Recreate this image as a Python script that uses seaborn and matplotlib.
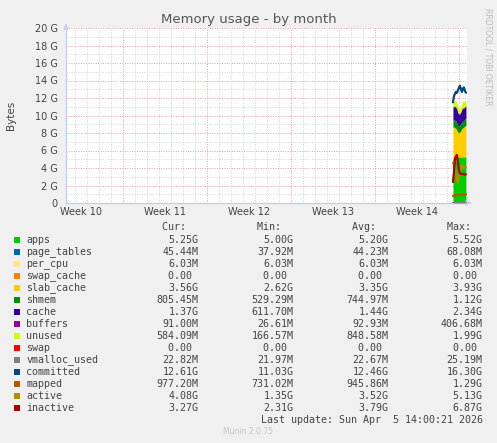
import matplotlib
matplotlib.use("Agg")
import numpy as np
import pandas as pd
import matplotlib.pyplot as plt
import seaborn as sns
from matplotlib.patches import Rectangle

# ========== DATA (values in GB) ==========
start_day = 32.25                      # first sample, days from left edge of plot
hours = [0, 2, 4, 6, 8, 10, 12, 14, 16, 18, 20, 22, 24, 26]

stack_names = ["apps", "page_tables", "per_cpu", "swap_cache", "slab_cache",
               "shmem", "cache", "buffers", "unused", "swap"]
apps = [5.00, 5.05, 5.10, 5.15, 5.20, 5.20, 5.25, 5.20, 5.20, 5.25, 5.25, 5.20, 5.25, 5.25]
page_tables = [0.040, 0.042, 0.043, 0.044, 0.045, 0.045, 0.046, 0.045, 0.044, 0.045, 0.045, 0.045, 0.045, 0.045]
per_cpu = [0.006, 0.006, 0.006, 0.006, 0.006, 0.006, 0.006, 0.006, 0.006, 0.006, 0.006, 0.006, 0.006, 0.006]
swap_cache = [0, 0, 0, 0, 0, 0, 0, 0, 0, 0, 0, 0, 0, 0]
slab_cache = [3.55, 3.60, 3.45, 3.30, 3.05, 2.85, 2.70, 2.85, 3.05, 3.20, 3.30, 3.45, 3.50, 3.56]
shmem = [0.85, 0.80, 0.85, 0.90, 0.80, 0.75, 0.80, 0.85, 0.80, 0.75, 0.70, 0.75, 0.80, 0.81]
cache = [1.45, 1.50, 1.55, 1.50, 1.60, 1.40, 1.30, 1.25, 1.30, 1.45, 1.50, 1.40, 1.35, 1.37]
buffers = [0.10, 0.09, 0.09, 0.10, 0.09, 0.09, 0.09, 0.09, 0.09, 0.09, 0.09, 0.09, 0.09, 0.09]
unused = [0.60, 0.55, 0.65, 0.70, 0.60, 0.75, 0.55, 0.45, 0.60, 0.70, 0.80, 0.70, 0.55, 0.58]
swap = [0, 0, 0, 0, 0, 0, 0, 0, 0, 0, 0, 0, 0, 0]

line_names = ["vmalloc_used", "committed", "mapped", "active", "inactive"]
vmalloc_used = [0.022, 0.022, 0.022, 0.023, 0.023, 0.023, 0.023, 0.023, 0.023, 0.023, 0.023, 0.023, 0.023, 0.023]
committed = [11.5, 12.2, 12.5, 12.7, 12.6, 12.9, 13.2, 13.4, 13.0, 12.7, 13.1, 13.2, 12.8, 12.6]
mapped = [0.80, 0.85, 0.88, 0.90, 0.92, 0.95, 0.93, 0.95, 0.97, 0.96, 0.98, 0.97, 0.97, 0.98]
active = [4.6, 4.4, 3.8, 3.3, 2.6, 2.3, 3.0, 3.6, 4.15, 4.3, 4.0, 4.1, 4.1, 4.08]
inactive = [2.4, 3.5, 5.1, 5.3, 5.5, 4.6, 3.8, 3.4, 3.3, 3.35, 3.3, 3.3, 3.25, 3.27]

colors = {
    "apps": "#00CC00", "page_tables": "#0066B3", "per_cpu": "#FFE680",
    "swap_cache": "#FF8000", "slab_cache": "#FFCC00", "shmem": "#008F00",
    "cache": "#330099", "buffers": "#990099", "unused": "#CCFF00",
    "swap": "#FF0000", "vmalloc_used": "#808080", "committed": "#00487D",
    "mapped": "#B35A00", "active": "#B38F00", "inactive": "#B30000",
}

week_labels = ["Week 10", "Week 11", "Week 12", "Week 13", "Week 14"]
week_starts = [4.78, 11.78, 18.78, 25.78, 32.78]
y_ticks = [0, 2, 4, 6, 8, 10, 12, 14, 16, 18, 20]
y_labels = ["0", "2 G", "4 G", "6 G", "8 G", "10 G", "12 G", "14 G", "16 G", "18 G", "20 G"]

legend_rows = [
    ("apps", "5.25G", "5.00G", "5.20G", "5.52G"),
    ("page_tables", "45.44M", "37.92M", "44.23M", "68.08M"),
    ("per_cpu", "6.03M", "6.03M", "6.03M", "6.03M"),
    ("swap_cache", "0.00 ", "0.00 ", "0.00 ", "0.00 "),
    ("slab_cache", "3.56G", "2.62G", "3.35G", "3.93G"),
    ("shmem", "805.45M", "529.29M", "744.97M", "1.12G"),
    ("cache", "1.37G", "611.70M", "1.44G", "2.34G"),
    ("buffers", "91.00M", "26.61M", "92.93M", "406.68M"),
    ("unused", "584.09M", "166.57M", "848.58M", "1.99G"),
    ("swap", "0.00 ", "0.00 ", "0.00 ", "0.00 "),
    ("vmalloc_used", "22.82M", "21.97M", "22.67M", "25.19M"),
    ("committed", "12.61G", "11.03G", "12.46G", "16.30G"),
    ("mapped", "977.20M", "731.02M", "945.86M", "1.29G"),
    ("active", "4.08G", "1.35G", "3.52G", "5.13G"),
    ("inactive", "3.27G", "2.31G", "3.79G", "6.87G"),
]

# ========== FIGURE ==========
sns.set_style("white")
plt.rcParams["font.family"] = ["DejaVu Sans"]

W, H = 497, 443
BG = "#F0F0F0"
TXT = "#444444"
fig = plt.figure(figsize=(W / 100, H / 100), dpi=100, facecolor=BG)
ax = fig.add_axes([66 / W, 1 - 203 / H, 401 / W, 175 / H])
ax.set_facecolor("white")

x = [start_day + h / 24 for h in hours]
stack_vals = [apps, page_tables, per_cpu, swap_cache, slab_cache, shmem, cache, buffers, unused, swap]
ax.stackplot(x, *stack_vals, colors=[colors[n] for n in stack_names], linewidth=0, zorder=3)

line_vals = [vmalloc_used, committed, mapped, active, inactive]
df = pd.concat([pd.DataFrame({"day": x, "G": v, "name": n}) for n, v in zip(line_names, line_vals)])
sns.lineplot(data=df, x="day", y="G", hue="name", palette={n: colors[n] for n in line_names},
             linewidth=1.6, legend=False, sort=False, ax=ax, zorder=4)

ax.set_xlim(0, 33.42)
ax.set_ylim(0, 20)
ax.set_xlabel("")
ax.set_ylabel("")

# grid: red major, gray minor
ax.set_xticks(week_starts)
ax.set_xticks([0.78 + d for d in range(33)], minor=True)
ax.set_yticks(y_ticks, y_labels)
ax.set_yticks([1, 3, 5, 7, 9, 11, 13, 15, 17, 19], minor=True)
ax.grid(which="major", color="#E8A0A0", linestyle=(0, (1, 1.5)), linewidth=0.7, zorder=1)
ax.grid(which="minor", color="#D4D4D4", linestyle=(0, (1, 1.5)), linewidth=0.7, zorder=0)
ax.set_axisbelow(True)
ax.tick_params(axis="x", which="both", length=0, labelbottom=False)
ax.tick_params(axis="y", which="both", length=0, labelsize=7, labelcolor=TXT, pad=6)

for lbl, ws in zip(week_labels, week_starts):
    ax.text(ws - 3.5, -9 / 175, lbl, transform=ax.get_xaxis_transform(),
            ha="center", va="center", fontsize=7, color=TXT)

for s in ["top", "right"]:
    ax.spines[s].set_visible(False)
for s in ["left", "bottom"]:
    ax.spines[s].set_color("#C8CCF0")
    ax.spines[s].set_linewidth(1)
ax.annotate("", xy=(0, 1 + 7 / 175), xytext=(0, 1), xycoords="axes fraction",
            arrowprops=dict(arrowstyle="-|>", color="#C8CCF0", lw=1, mutation_scale=7))
ax.annotate("", xy=(1 + 7 / 401, 0), xytext=(1, 0), xycoords="axes fraction",
            arrowprops=dict(arrowstyle="-|>", color="#C8CCF0", lw=1, mutation_scale=7))

# ========== TEXTS ==========
def fx(px):
    return px / W

def fy(py):
    return 1 - py / H

fig.text(fx(248.5), fy(19), "Memory usage - by month", ha="center", va="center",
         fontsize=9.5, color="#555555")
fig.text(fx(11), fy(115), "Bytes", rotation=90, ha="center", va="center", fontsize=7.5, color=TXT)
fig.text(fx(488), fy(8), "RRDTOOL / TOBI OETIKER", rotation=270, ha="center", va="top",
         fontsize=5.5, color="#BBBBBB")

MONO = "DejaVu Sans Mono"
FS = 7.2
col_right = [198.3, 293.3, 388.3, 482.7]
for hdr, cx in zip(["Cur:  ", "Min:  ", "Avg:  ", "Max:  "], col_right):
    fig.text(fx(cx), fy(227.5), hdr, ha="right", va="center", family=MONO, fontsize=FS, color=TXT)

for i, (name, cur, mn, av, mx) in enumerate(legend_rows):
    yy = 239.7 + 12 * i
    fig.patches.append(Rectangle((fx(14), fy(yy + 3)), 6 / W, 6 / H, transform=fig.transFigure,
                                 facecolor=colors[name], edgecolor="none"))
    fig.text(fx(26.3), fy(yy), name, ha="left", va="center", family=MONO, fontsize=FS, color=TXT)
    for val, cx in zip([cur, mn, av, mx], col_right):
        fig.text(fx(cx), fy(yy), val, ha="right", va="center", family=MONO, fontsize=FS, color=TXT)

fig.text(fx(482.7), fy(420), "Last update: Sun Apr  5 14:00:21 2026", ha="right", va="center",
         family=MONO, fontsize=FS, color=TXT)
fig.text(fx(248), fy(432), "Munin 2.0.75", ha="center", va="center", fontsize=5.5, color="#C4C4C4")

fig.savefig("out.png", dpi=100, facecolor=BG)
